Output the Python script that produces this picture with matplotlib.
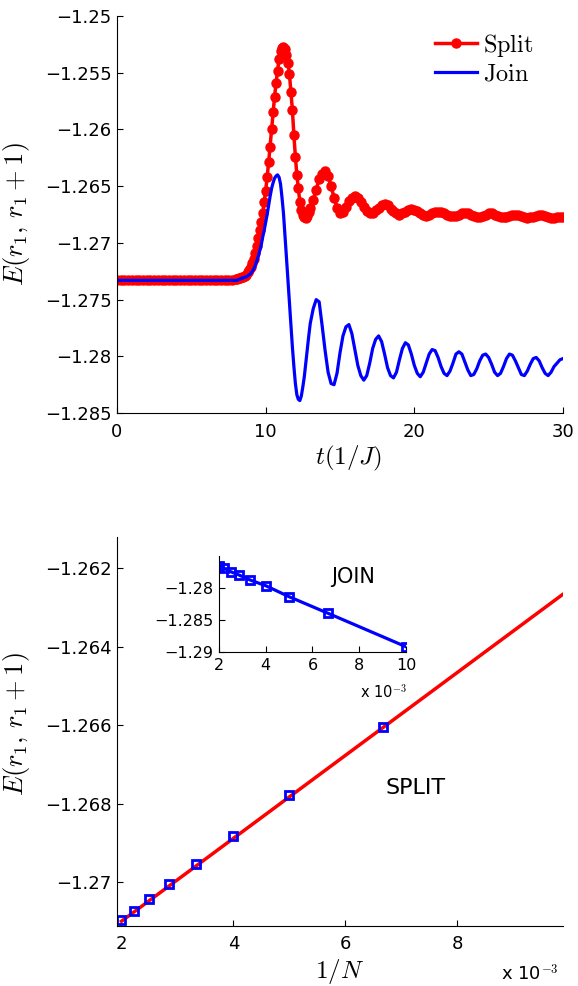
import matplotlib
matplotlib.use('Agg')
import matplotlib.pyplot as plt
from matplotlib.ticker import FuncFormatter
import numpy as np

plt.rcParams['font.family'] = ['DejaVu Sans']
plt.rcParams['mathtext.fontset'] = 'cm'

# time grid of the quench run: coarse on the plateau, fine near the jump
t = np.concatenate([np.arange(32) * 0.25, 8 + np.arange(50) * 0.1, 13 + np.arange(86) * 0.2])

split_flat = [-1.2733] * 32
split_jump = [-1.2732, -1.2732, -1.2731, -1.2731, -1.2730, -1.2730, -1.2729, -1.2728, -1.2726, -1.2724,
              -1.2721, -1.2718, -1.2714, -1.2709, -1.2703, -1.2696, -1.2689, -1.2682, -1.2674, -1.2664,
              -1.2654, -1.2642, -1.2629, -1.2615, -1.2600, -1.2585, -1.2571, -1.2559, -1.2548, -1.2538,
              -1.2531, -1.2528, -1.2527, -1.2529, -1.2534, -1.2541, -1.2551, -1.2567, -1.2583, -1.2605,
              -1.2624, -1.2640, -1.2652, -1.2664, -1.2671, -1.2675, -1.2677, -1.2678, -1.2676, -1.2673]
split_tail = [-1.2669, -1.2662, -1.2653, -1.2644, -1.2639, -1.2637, -1.2641, -1.2650, -1.2660, -1.2669,
              -1.2674, -1.2673, -1.2668, -1.2663, -1.2660, -1.2659, -1.2660, -1.2664, -1.2668, -1.2672,
              -1.2674, -1.2674, -1.2671, -1.2669, -1.2667, -1.2666, -1.2667, -1.2670, -1.2672, -1.2674,
              -1.2675, -1.2674, -1.2673, -1.2671, -1.2670, -1.2671, -1.2672, -1.2674, -1.2675, -1.2676,
              -1.2675, -1.2674, -1.2673, -1.2673, -1.2673, -1.2674, -1.2675, -1.2676, -1.2676, -1.2676,
              -1.2675, -1.2674, -1.2674, -1.2674, -1.2675, -1.2676, -1.2677, -1.2677, -1.2676, -1.2675,
              -1.2674, -1.2674, -1.2675, -1.2676, -1.2677, -1.2677, -1.2677, -1.2676, -1.2675, -1.2675,
              -1.2675, -1.2676, -1.2677, -1.2678, -1.2677, -1.2677, -1.2676, -1.2675, -1.2675, -1.2676,
              -1.2677, -1.2678, -1.2678, -1.2677, -1.2677, -1.2677]

join_flat = [-1.2733] * 32
join_jump = [-1.2733, -1.2733, -1.2732, -1.2732, -1.2731, -1.2731, -1.2730, -1.2730, -1.2729, -1.2728,
             -1.2727, -1.2725, -1.2723, -1.2720, -1.2716, -1.2712, -1.2707, -1.2702, -1.2695, -1.2689,
             -1.2682, -1.2675, -1.2667, -1.2659, -1.2652, -1.2647, -1.2643, -1.2641, -1.2640, -1.2642,
             -1.2648, -1.2660, -1.2674, -1.2693, -1.2713, -1.2733, -1.2753, -1.2773, -1.2792, -1.2809,
             -1.2824, -1.2834, -1.2838, -1.2839, -1.2835, -1.2827, -1.2818, -1.2806, -1.2794, -1.2782]
join_tail = [-1.2771, -1.2758, -1.2750, -1.2752, -1.2773, -1.2795, -1.2814, -1.2824, -1.2825, -1.2815,
             -1.2797, -1.2782, -1.2774, -1.2772, -1.2780, -1.2794, -1.2808, -1.2817, -1.2821, -1.2817,
             -1.2806, -1.2793, -1.2785, -1.2782, -1.2787, -1.2798, -1.2810, -1.2817, -1.2819, -1.2814,
             -1.2803, -1.2793, -1.2788, -1.2790, -1.2798, -1.2808, -1.2815, -1.2818, -1.2814, -1.2806,
             -1.2798, -1.2794, -1.2795, -1.2801, -1.2809, -1.2815, -1.2817, -1.2813, -1.2806, -1.2798,
             -1.2796, -1.2798, -1.2805, -1.2812, -1.2817, -1.2816, -1.2811, -1.2804, -1.2799, -1.2798,
             -1.2801, -1.2807, -1.2814, -1.2817, -1.2815, -1.2809, -1.2802, -1.2798, -1.2799, -1.2804,
             -1.2810, -1.2816, -1.2817, -1.2813, -1.2807, -1.2802, -1.2801, -1.2804, -1.2810, -1.2815,
             -1.2817, -1.2814, -1.2809, -1.2806, -1.2803, -1.2802]

split_E = np.array(split_flat + split_jump + split_tail)
join_E = np.array(join_flat + join_jump + join_tail)

# finite size scaling
invN = np.array([2.0, 2.222, 2.5, 2.857, 3.333, 4.0, 5.0, 6.667]) * 1e-3
split_N = [-1.27097, -1.27073, -1.27044, -1.27006, -1.26955, -1.26883, -1.26777, -1.26604]
fit_x = [2.0e-3, 9.89e-3]
fit_y = [-1.27100, -1.26266]
invN_join = np.array([2.0, 2.222, 2.5, 2.857, 3.333, 4.0, 5.0, 6.667, 10.0]) * 1e-3
join_N = [-1.27656, -1.27692, -1.27745, -1.27797, -1.27875, -1.27964, -1.28136, -1.28395, -1.28917]


def fmt(v, p):
    return ('%g' % v).replace('-', '\u2212')


def style(ax, fs, pad):
    ax.spines['top'].set_visible(False)
    ax.spines['right'].set_visible(False)
    ax.tick_params(direction='in', length=4, labelsize=fs, top=False, right=False)
    ax.tick_params(axis='x', pad=pad)
    ax.tick_params(axis='y', pad=4)
    ax.yaxis.set_major_formatter(FuncFormatter(fmt))


fig = plt.figure(figsize=(5.78, 9.86), dpi=100)

ax1 = fig.add_axes([0.2024, 0.5811, 0.7716, 0.4026])
ax1.plot(t, split_E, '-o', color='r', lw=2.5, ms=6.5, label=r'$\mathrm{Split}$')
ax1.plot(t, join_E, '-', color='b', lw=2.3, label=r'$\mathrm{Join}$')
ax1.set_xlim(0, 30)
ax1.set_ylim(-1.285, -1.25)
ax1.set_xticks([0, 10, 20, 30])
ax1.set_yticks(np.arange(-1.285, -1.2499, 0.005))
style(ax1, 13, 7)
ax1.set_xlabel(r'$t(1/J)$', fontsize=18)
ax1.xaxis.set_label_coords(0.52, -0.078)
ax1.set_ylabel(r'$E(r_1,\,r_1+1)$', fontsize=19)
ax1.yaxis.set_label_coords(-0.19, 0.5)
ax1.legend(loc='upper right', bbox_to_anchor=(0.935, 0.96), frameon=False, fontsize=17.5,
           handlelength=1.75, handletextpad=0.25, borderaxespad=0, borderpad=0, labelspacing=0.1)

ax2 = fig.add_axes([0.2024, 0.0609, 0.7716, 0.3945])
ax2.plot(fit_x, fit_y, '-', color='r', lw=2.5)
ax2.plot(invN, split_N, 's', mfc='none', mec='b', mew=2, ms=6)
ax2.set_xlim(0.00192, 0.00989)
ax2.set_ylim(-1.27112, -1.2612)
ax2.set_xticks([0.002, 0.004, 0.006, 0.008])
ax2.set_xticklabels(['2', '4', '6', '8'])
ax2.set_yticks([-1.27, -1.268, -1.266, -1.264, -1.262])
style(ax2, 13, 6.5)
ax2.set_xlabel(r'$1/N$', fontsize=18)
ax2.xaxis.set_label_coords(0.5, -0.08)
ax2.set_ylabel(r'$E(r_1,\,r_1+1)$', fontsize=19)
ax2.yaxis.set_label_coords(-0.19, 0.52)
ax2.text(0.601, 0.355, 'SPLIT', transform=ax2.transAxes, fontsize=16, va='center')
fig.text(0.866, 0.006, r'x 10$^{-3}$', fontsize=13)

ax3 = fig.add_axes([0.3789, 0.3387, 0.3235, 0.0974])
ax3.plot(invN_join, join_N, '-s', color='b', lw=2.3, mfc='none', mec='b', mew=2, ms=6)
ax3.set_xlim(0.002, 0.010)
ax3.set_ylim(-1.29, -1.275)
ax3.set_xticks([0.002, 0.004, 0.006, 0.008, 0.010])
ax3.set_xticklabels(['2', '4', '6', '8', '10'])
ax3.set_yticks([-1.29, -1.285, -1.28])
style(ax3, 11.5, 4)
ax3.text(0.6, 0.78, 'JOIN', transform=ax3.transAxes, fontsize=15, va='center')
fig.text(0.622, 0.292, r'x 10$^{-3}$', fontsize=10.5)

fig.savefig('out.png', dpi=100)
